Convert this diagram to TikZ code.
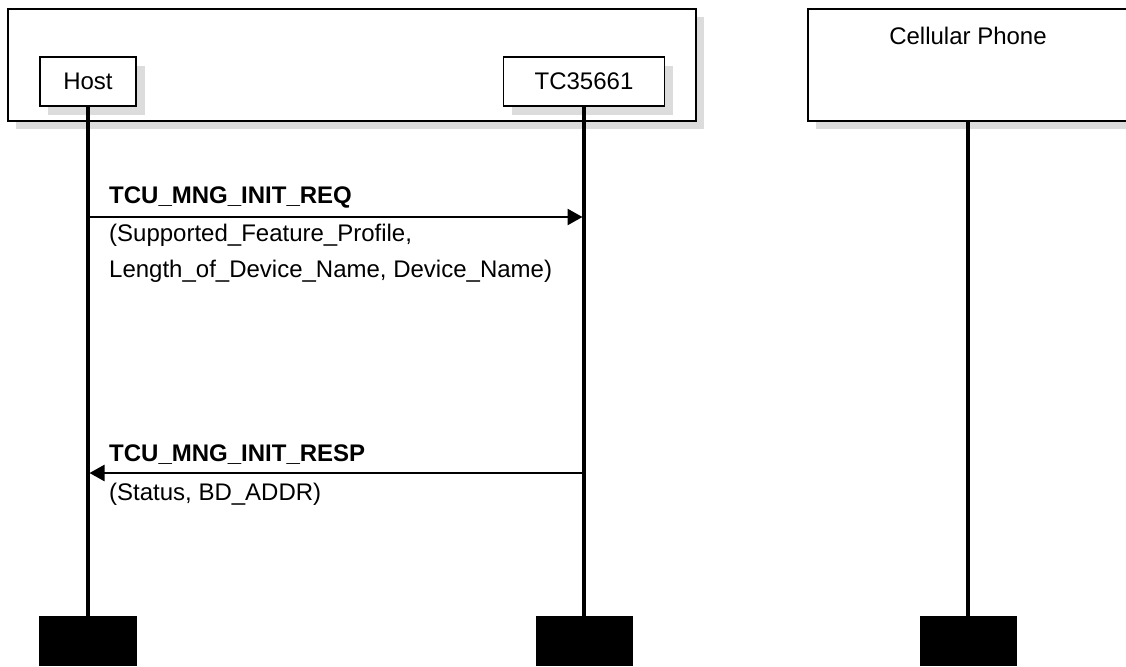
\documentclass[tikz,border=0pt]{standalone}
\usepackage{fontspec}
\setmainfont{Liberation Sans}
\usetikzlibrary{arrows.meta}
\definecolor{shadowgrey}{HTML}{DCDCDC}
\tikzset{
  txt/.style={font=\fontsize{24}{28}\selectfont},
  frame/.style={draw=black, line width=1.8pt, fill=white},
  shadowbox/.style={fill=shadowgrey, draw=none},
  lifeline/.style={line width=3.5pt},
  msg/.style={line width=2.5pt, -{Triangle[length=15pt,width=16pt]}},
  lbl/.style={txt, anchor=base west, inner sep=0pt},
  msgname/.style={lbl, font=\fontsize{24}{28}\selectfont\bfseries},
  endbox/.style={fill=black, draw=none}
}
\begin{document}
\begin{tikzpicture}[x=1pt,y=-1pt]
\useasboundingbox (0,0) rectangle (1126,666);
% outer boxes with shadows
\fill[shadowbox] (16,17) rectangle (704,129);
\draw[frame] (8,9) rectangle (696,121);
\fill[shadowbox] (816,17) rectangle (1140,129);
\draw[frame] (808,9) rectangle (1140,121);
\node[txt, anchor=base, inner sep=0pt] (phone) at (968,45) {Cellular Phone};
% host and tc boxes
\fill[shadowbox] (48,66) rectangle (145,115);
\node[frame, txt, minimum width=96pt, minimum height=49pt, inner sep=0pt] (host) at (88,81.5) {Host};
\fill[shadowbox] (512,66) rectangle (673,115);
\node[frame, txt, minimum width=161pt, minimum height=49pt, inner sep=0pt] (tc) at (584,81.5) {TC35661};
% end boxes
\node[endbox, minimum width=98pt, minimum height=50pt, inner sep=0pt] (hostend) at (88,641) {};
\node[endbox, minimum width=97pt, minimum height=50pt, inner sep=0pt] (tcend) at (584,641) {};
\node[endbox, minimum width=97pt, minimum height=50pt, inner sep=0pt] (phoneend) at (968,641) {};
\coordinate (phonetop) at (968,121);
% lifelines
\draw[lifeline] (host.south) -- (hostend.north);
\draw[lifeline] (tc.south) -- (tcend.north);
\draw[lifeline] (phonetop) -- (phoneend.north);
% messages
\coordinate (h1) at (88,217);
\coordinate (t1) at (582.5,217);
\coordinate (h2) at (89.5,473);
\coordinate (t2) at (584,473);
\draw[msg] (h1) -- (t1);
\node[msgname] (m1) at (109,203) {TCU\_MNG\_INIT\_REQ};
\node[lbl] (p1a) at (109,241) {(Supported\_Feature\_Profile,};
\node[lbl] (p1b) at (109,277) {Length\_of\_Device\_Name, Device\_Name)};
\draw[msg] (t2) -- (h2);
\node[msgname] (m2) at (109,461) {TCU\_MNG\_INIT\_RESP};
\node[lbl] (p2) at (109,500) {(Status, BD\_ADDR)};
\end{tikzpicture}
\end{document}
